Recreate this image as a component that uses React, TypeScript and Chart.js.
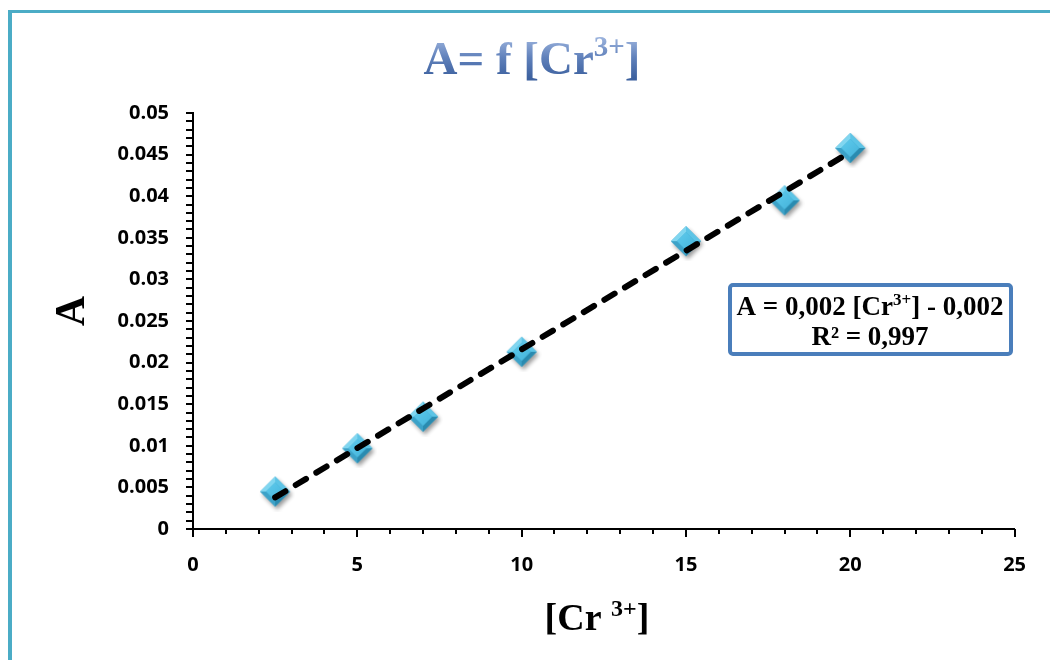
import React, { useEffect, useRef } from "react";
import { Chart, registerables } from "chart.js";

Chart.register(...registerables);

const concentrations = [2.5, 5, 7, 10, 15, 18, 20];
const absorbances = [0.0045, 0.0097, 0.0135, 0.0213, 0.0346, 0.0395, 0.0458];
const trendX = [2.5, 20];
const trendY = [0.0038, 0.0453];
const yTickValues = [0, 0.005, 0.01, 0.015, 0.02, 0.025, 0.03, 0.035, 0.04, 0.045, 0.05];
const yTickLabels = ["0", "0.005", "0.01", "0.015", "0.02", "0.025", "0.03", "0.035", "0.04", "0.045", "0.05"];
const xTickValues = [0, 5, 10, 15, 20, 25];
const xTickLabels = ["0", "5", "10", "15", "20", "25"];

const SERIF = '"Liberation Serif", "DejaVu Serif", serif';

type Part = { text: string; size: number; dy?: number };

function drawRich(ctx: CanvasRenderingContext2D, parts: Part[], cx: number, baseline: number) {
  let total = 0;
  const widths = parts.map((p) => {
    ctx.font = `bold ${p.size}px ${SERIF}`;
    const w = ctx.measureText(p.text).width;
    total += w;
    return w;
  });
  let x = cx - total / 2;
  ctx.textAlign = "left";
  ctx.textBaseline = "alphabetic";
  parts.forEach((p, i) => {
    ctx.font = `bold ${p.size}px ${SERIF}`;
    ctx.fillText(p.text, x, baseline + (p.dy || 0));
    x += widths[i];
  });
}

function makeDiamond(): HTMLCanvasElement {
  const S = 40;
  const c = S / 2;
  const r = 15;
  const cv = document.createElement("canvas");
  cv.width = S;
  cv.height = S;
  const g = cv.getContext("2d")!;
  const path = (rr: number) => {
    g.beginPath();
    g.moveTo(c, c - rr);
    g.lineTo(c + rr, c);
    g.lineTo(c, c + rr);
    g.lineTo(c - rr, c);
    g.closePath();
  };
  g.save();
  g.shadowColor = "rgba(0,0,0,0.4)";
  g.shadowBlur = 4;
  g.shadowOffsetX = 2;
  g.shadowOffsetY = 3;
  path(r);
  g.fillStyle = "#3aa8d0";
  g.fill();
  g.restore();
  const ri = 9;
  const facet = (pts: number[][], color: string) => {
    g.beginPath();
    g.moveTo(pts[0][0], pts[0][1]);
    for (let i = 1; i < pts.length; i++) g.lineTo(pts[i][0], pts[i][1]);
    g.closePath();
    g.fillStyle = color;
    g.fill();
  };
  facet([[c - r, c], [c, c - r], [c, c - ri], [c - ri, c]], "#80d6f0");
  facet([[c, c - r], [c + r, c], [c + ri, c], [c, c - ri]], "#5cc4e6");
  facet([[c + r, c], [c, c + r], [c, c + ri], [c + ri, c]], "#2a8bb0");
  facet([[c, c + r], [c - r, c], [c - ri, c], [c, c + ri]], "#3ca2c8");
  path(ri);
  const grad = g.createLinearGradient(c - ri, c - ri, c + ri, c + ri);
  grad.addColorStop(0, "#5ecbed");
  grad.addColorStop(1, "#45b3da");
  g.fillStyle = grad;
  g.fill();
  return cv;
}

const decorPlugin = {
  id: "decor",
  afterDraw(chart: any) {
    const ctx: CanvasRenderingContext2D = chart.ctx;
    const xs = chart.scales.x;
    const ys = chart.scales.y;
    const area = chart.chartArea;
    ctx.save();

    // frame
    ctx.fillStyle = "#4bacc6";
    ctx.fillRect(8, 10, 4, 650);
    ctx.fillRect(8, 10, 1042, 3);

    // minor/major ticks
    ctx.strokeStyle = "#000";
    ctx.lineWidth = 2;
    ctx.beginPath();
    for (let i = 0; i <= 50; i++) {
      const y = Math.round(ys.getPixelForValue(i * 0.001));
      ctx.moveTo(area.left - 7, y);
      ctx.lineTo(area.left, y);
    }
    for (let i = 0; i <= 25; i++) {
      const x = Math.round(xs.getPixelForValue(i));
      const len = i % 5 === 0 ? 8 : 5;
      ctx.moveTo(x, area.bottom);
      ctx.lineTo(x, area.bottom + len);
    }
    ctx.stroke();

    // title
    const tg = ctx.createLinearGradient(0, 38, 0, 78);
    tg.addColorStop(0, "#9ab2dc");
    tg.addColorStop(0.5, "#5f80ba");
    tg.addColorStop(1, "#3d619f");
    ctx.fillStyle = tg;
    drawRich(
      ctx,
      [
        { text: "A= f [Cr", size: 47 },
        { text: "3+", size: 29, dy: -18 },
        { text: "]", size: 47 },
      ],
      532,
      74
    );

    // x axis title
    ctx.fillStyle = "#000";
    drawRich(
      ctx,
      [
        { text: "[Cr ", size: 38 },
        { text: "3+", size: 24, dy: -14 },
        { text: "]", size: 38 },
      ],
      597,
      630
    );

    // y axis title
    ctx.save();
    ctx.translate(84, 311);
    ctx.rotate(-Math.PI / 2);
    ctx.font = `bold 42px ${SERIF}`;
    ctx.textAlign = "center";
    ctx.textBaseline = "alphabetic";
    ctx.fillText("A", 0, 0);
    ctx.restore();

    // equation box
    ctx.fillStyle = "#fff";
    ctx.strokeStyle = "#4a7ebb";
    ctx.lineWidth = 4;
    ctx.beginPath();
    (ctx as any).roundRect(730, 285, 281, 69, 3);
    ctx.fill();
    ctx.stroke();
    ctx.fillStyle = "#000";
    drawRich(
      ctx,
      [
        { text: "A = 0,002 [Cr", size: 27 },
        { text: "3+", size: 17, dy: -10 },
        { text: "] - 0,002", size: 27 },
      ],
      870,
      315
    );
    drawRich(ctx, [{ text: "R² = 0,997", size: 27 }], 870, 345);

    ctx.restore();
  },
};

export default function App() {
  const ref = useRef<HTMLCanvasElement | null>(null);
  useEffect(() => {
    document.body.style.margin = "0";
    const diamond = makeDiamond();
    const tickFont = { family: '"Open Sans", "Lato", sans-serif', size: 20, weight: "bold" as const };
    const chart = new Chart(ref.current!, {
      type: "scatter",
      data: {
        datasets: [
          {
            type: "line",
            data: trendX.map((x, i) => ({ x, y: trendY[i] })),
            borderColor: "#000",
            borderWidth: 6,
            borderDash: [12, 12],
            borderCapStyle: "round",
            pointRadius: 0,
            fill: false,
            order: 0,
          } as any,
          {
            data: concentrations.map((x, i) => ({ x, y: absorbances[i] })),
            pointStyle: diamond as any,
            pointRadius: 15,
            order: 1,
          },
        ],
      },
      options: {
        animation: false,
        responsive: true,
        maintainAspectRatio: false,
        layout: { padding: { left: 83, right: 33, top: 113, bottom: 71 } },
        plugins: { legend: { display: false }, tooltip: { enabled: false }, title: { display: false } },
        scales: {
          x: {
            type: "linear",
            min: 0,
            max: 25,
            afterFit: (s: any) => {
              s.height = 60;
            },
            afterBuildTicks: (s: any) => {
              s.ticks = xTickValues.map((v) => ({ value: v }));
            },
            ticks: {
              callback: (_v: any, i: number) => xTickLabels[i],
              font: tickFont,
              color: "#000",
              padding: 24,
              maxRotation: 0,
            },
            grid: { display: true, drawOnChartArea: false, drawTicks: false },
            border: { display: true, color: "#000", width: 2 },
          },
          y: {
            type: "linear",
            min: 0,
            max: 0.05,
            afterFit: (s: any) => {
              s.width = 110;
            },
            afterBuildTicks: (s: any) => {
              s.ticks = yTickValues.map((v) => ({ value: v }));
            },
            ticks: {
              callback: (_v: any, i: number) => yTickLabels[i],
              font: tickFont,
              color: "#000",
              padding: 24,
            },
            grid: { display: true, drawOnChartArea: false, drawTicks: false },
            border: { display: true, color: "#000", width: 2 },
          },
        },
      },
      plugins: [decorPlugin],
    });
    return () => chart.destroy();
  }, []);
  return (
    <div style={{ position: "fixed", left: 0, top: 0, width: 1050, height: 660, background: "#fff" }}>
      <canvas ref={ref} />
    </div>
  );
}
